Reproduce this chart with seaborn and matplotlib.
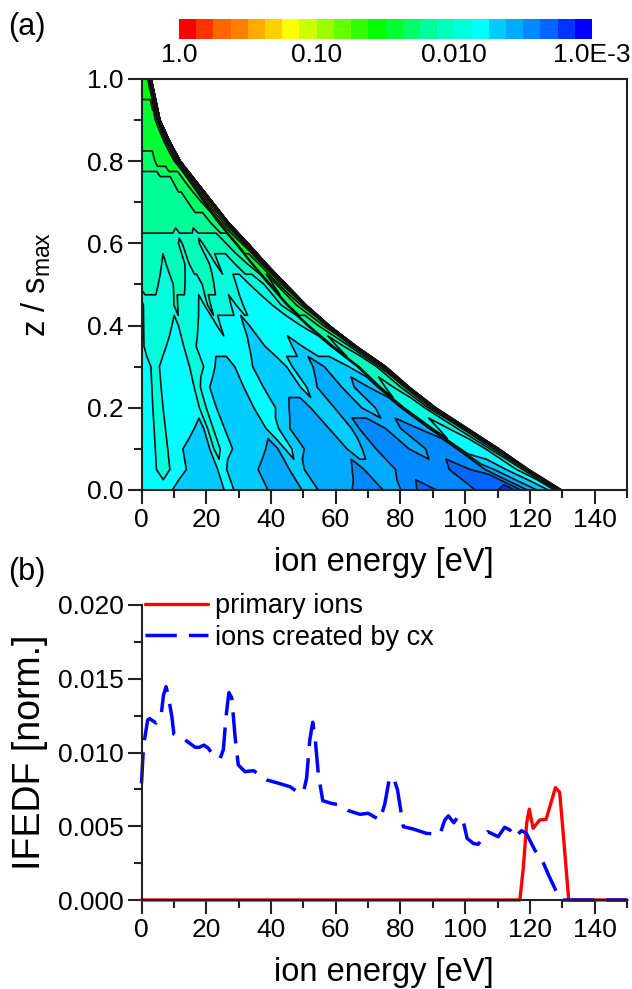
import numpy as np
import matplotlib
matplotlib.use('Agg')
import matplotlib.pyplot as plt
from matplotlib.colors import ListedColormap
from matplotlib.ticker import MultipleLocator
import seaborn as sns

# colour bar steps, 8 per decade from 1.0 down to 1.0E-3
band_colors = ['#ff0000', '#ff3300', '#ff6600', '#ff8000', '#ffaa00', '#ffd000',
               '#ffff00', '#ccff00', '#99ff00', '#66ff00', '#33ff00', '#00ff00',
               '#00ff33', '#00ff66', '#00ff99', '#00ffbb', '#00ffdd', '#00ffff',
               '#00ccff', '#00aaff', '#0088ff', '#0066ff', '#0033ff', '#0000ff']
bar_ticks = [0, 8, 16, 24]
bar_labels = ['1.0', '0.10', '0.010', '1.0E-3']

# panel a: heights, sheath edge energy at each height, and the energy columns
z_rows = [0, .05, .1, .15, .2, .25, .3, .35, .4, .45, .5, .55, .6, .65, .7, .75, .8, .85, .9, 1.0]
edge_energy = [130.2, 120, 110.8, 101, 91.2, 83, 75.7, 66.5, 58.2, 51, 44.8, 38.7, 33, 27, 22, 17, 12, 8.6, 5.7, 3.0]
col_energy = [0, 3, 7, 12, 18, 24, 27, 30, 36, 42, 48, 51, 53, 56, 62, 68, 73, 76, 78, 82,
              88, 94, 100, 106, 114, 116, 120, 124, 127, 129, 130]

# colour bar step of each cell, one list per height
band_z00 = [17, 17, 17, 18, 18, 18, 17, 18, 18, 19, 19, 18, 18, 19, 19, 20, 20, 19, 19, 20, 21, 20, 20, 21, 22, 21, 19, 18, 17, 14, 30]
band_z05 = [17, 17, 16, 17, 18, 18, 17, 18, 18, 19, 19, 18, 18, 19, 19, 19, 20, 19, 19, 19, 20, 20, 20, 21, 20, 19, 18, 17, 16, 14, 30]
band_z10 = [17, 17, 16, 17, 18, 18, 16, 17, 18, 18, 19, 18, 17, 18, 19, 19, 19, 18, 18, 19, 20, 20, 19, 20, 20, 17, 17, 17, 15, 13, 30]
band_z15 = [17, 17, 16, 17, 17, 18, 16, 17, 18, 18, 18, 17, 17, 18, 19, 19, 19, 18, 18, 18, 20, 20, 19, 20, 19, 16, 17, 16, 15, 12, 30]
band_z20 = [17, 17, 16, 17, 17, 17, 16, 17, 18, 18, 18, 17, 17, 17, 18, 19, 19, 18, 18, 18, 19, 19, 18, 19, 19, 16, 16, 16, 14, 12, 30]
band_z25 = [17, 17, 16, 17, 17, 17, 16, 17, 18, 18, 18, 17, 17, 17, 18, 18, 18, 18, 17, 18, 19, 19, 18, 19, 18, 15, 16, 15, 14, 11, 30]
band_z30 = [17, 17, 16, 17, 17, 17, 16, 16, 17, 18, 18, 17, 17, 17, 18, 18, 18, 18, 17, 18, 18, 19, 18, 18, 17, 15, 15, 15, 13, 11, 30]
band_z35 = [17, 16, 16, 16, 17, 17, 16, 16, 17, 17, 17, 17, 17, 17, 17, 18, 18, 17, 17, 17, 17, 18, 17, 17, 17, 14, 15, 14, 13, 10, 30]
band_z40 = [17, 16, 16, 16, 16, 17, 16, 16, 16, 17, 17, 17, 16, 17, 17, 17, 18, 17, 17, 17, 17, 17, 17, 17, 16, 14, 14, 13, 12, 10, 30]
band_z45 = [17, 16, 16, 16, 16, 16, 15, 16, 16, 16, 17, 16, 15, 16, 16, 16, 17, 16, 16, 17, 17, 17, 17, 16, 15, 13, 13, 12, 11, 9, 30]
band_z50 = [15, 15, 15, 15, 16, 16, 16, 15, 15, 16, 16, 16, 16, 15, 15, 16, 16, 16, 16, 16, 17, 17, 16, 16, 15, 12, 13, 11, 10, 8, 30]
band_z55 = [15, 15, 15, 15, 15, 16, 15, 15, 15, 15, 16, 15, 15, 15, 15, 15, 16, 16, 15, 16, 16, 16, 15, 15, 14, 12, 12, 11, 9, 8, 30]
band_z60 = [15, 15, 15, 15, 15, 15, 15, 15, 15, 15, 16, 15, 15, 15, 15, 15, 16, 15, 15, 15, 15, 15, 15, 14, 14, 11, 11, 10, 8, 7, 30]
band_z65 = [14, 14, 14, 14, 14, 14, 14, 14, 14, 14, 14, 14, 14, 14, 14, 14, 14, 14, 14, 14, 14, 14, 14, 13, 13, 11, 10, 9, 8, 7, 30]
band_z70 = [14, 14, 14, 14, 14, 14, 14, 14, 14, 14, 14, 14, 14, 14, 14, 14, 14, 14, 14, 14, 13, 13, 13, 13, 12, 10, 9, 8, 7, 6, 30]
band_z75 = [14, 14, 14, 14, 14, 14, 14, 14, 14, 14, 14, 14, 14, 14, 14, 14, 14, 13, 13, 13, 13, 13, 13, 12, 12, 9, 8, 7, 6, 6, 30]
band_z80 = [13, 13, 13, 13, 13, 13, 13, 13, 13, 13, 12, 12, 12, 12, 12, 12, 12, 12, 12, 12, 12, 12, 12, 12, 11, 9, 7, 6, 6, 6, 30]
band_z85 = [12, 12, 12, 12, 12, 12, 12, 12, 12, 12, 12, 12, 12, 12, 12, 12, 12, 12, 12, 12, 12, 12, 12, 11, 10, 8, 6, 6, 6, 6, 30]
band_z90 = [12, 12, 12, 12, 12, 12, 12, 12, 12, 12, 12, 12, 12, 12, 12, 12, 12, 12, 12, 12, 12, 12, 11, 11, 10, 8, 6, 6, 6, 6, 30]
band_z100 = [11, 11, 11, 11, 11, 11, 11, 11, 11, 11, 11, 11, 11, 11, 11, 11, 11, 11, 11, 11, 10, 10, 9, 8, 7, 6, 6, 6, 6, 6, 30]

# panel b: cx ions
cx_energy = [0, .6, 1.9, 2.5, 4.5, 6, 6.8, 7.6, 8.3, 9.4, 10, 12, 13.5, 16.6, 17.8, 19.3, 20.6, 22.2, 24.3,
             25.3, 26.1, 27, 27.9, 28.9, 29.9, 32, 34.6, 38.7, 41.8, 45.9, 48.5, 50, 51, 52, 52.9, 53.7, 54.6,
             56, 58.7, 61.3, 63.9, 67.5, 70, 73.7, 75.2, 76.5, 77.8, 79.1, 80.9, 84, 88, 92.2, 93.7, 94.8,
             96.5, 97.8, 99.2, 100.6, 102.5, 104, 105, 107, 110.2, 112.2, 113.8, 115.3, 117.4, 118.9, 121.5,
             124, 126, 128.2, 130, 150]
cx_ifedf = [.0079, .0104, .0122, .0123, .0120, .0124, .0139, .01446, .0138, .0124, .01125, .0110, .01085,
            .01035, .01035, .0105, .0103, .0098, .0096, .0102, .0124, .01406, .0137, .0111, .00915, .0087,
            .00877, .00814, .00795, .00768, .00728, .00728, .00825, .01085, .01205, .01085, .00859, .00673,
            .00655, .00644, .00606, .00581, .00588, .00542, .00655, .00814, .00836, .00746, .00497, .00481,
            .00452, .00445, .00542, .0057, .00524, .00565, .00554, .00418, .00384, .00377, .00407, .00463,
            .00429, .00493, .00475, .00425, .0047, .00452, .00339, .0026, .00158, .00056, 0, 0]

# panel b: primary ions
prim_energy = [0, 116.9, 118, 119, 119.8, 121, 123, 125, 127.9, 129.2, 130.2, 132, 150]
prim_ifedf = [0, 0, .00226, .0052, .00615, .00486, .00542, .00547, .00762, .0073, .00475, 0, 0]

W, H = 632, 989

sns.set_theme(style='ticks')
plt.rcParams['font.family'] = ['Liberation Sans', 'DejaVu Sans']
plt.rcParams['mathtext.fontset'] = 'custom'
plt.rcParams['mathtext.rm'] = 'Liberation Sans'
plt.rcParams['mathtext.default'] = 'rm'
plt.rcParams['text.color'] = 'black'
plt.rcParams['axes.labelcolor'] = 'black'
plt.rcParams['xtick.labelcolor'] = 'black'
plt.rcParams['ytick.labelcolor'] = 'black'


def axes_px(fig, left, top, right, bottom):
    return fig.add_axes([left / W, 1 - bottom / H, (right - left) / W, (bottom - top) / H])


def style_axis(ax):
    ax.set_xlim(0, 150)
    ax.xaxis.set_major_locator(MultipleLocator(20))
    ax.xaxis.set_minor_locator(MultipleLocator(10))
    ax.tick_params(which='major', length=10, width=1.5, labelsize=19, color='#222222', pad=3)
    ax.tick_params(which='minor', length=6, width=1.5, color='#222222')
    ax.set_xlabel('ion energy [eV]', fontsize=23.5, va='center')
    for s in ax.spines.values():
        s.set_linewidth(1.5)
        s.set_color('#222222')


fig = plt.figure(figsize=(W / 100, H / 100), dpi=100)

# ---- panel a
ax_a = axes_px(fig, 141.5, 79, 627, 490)
bands = np.array([band_z00, band_z05, band_z10, band_z15, band_z20, band_z25, band_z30, band_z35,
                  band_z40, band_z45, band_z50, band_z55, band_z60, band_z65, band_z70, band_z75,
                  band_z80, band_z85, band_z90, band_z100]) + 0.5
X = np.outer(np.array(edge_energy), np.array(col_energy)) / 130.0
Y = np.repeat(np.array(z_rows)[:, None], len(col_energy), axis=1)
levels = np.arange(0, 25)
ax_a.contourf(X, Y, bands, levels=levels, colors=band_colors)
ax_a.contour(X, Y, bands, levels=levels, colors='#111111', linewidths=1.2, linestyles='solid')
style_axis(ax_a)
ax_a.set_ylim(0, 1)
ax_a.yaxis.set_major_locator(MultipleLocator(.2))
ax_a.yaxis.set_minor_locator(MultipleLocator(.1))
ax_a.yaxis.set_major_formatter('{x:.1f}')
ax_a.set_ylabel('z / s$_{max}$', fontsize=23.5, va='center')
ax_a.xaxis.set_label_coords(.5, (490 - 563) / 411)
ax_a.yaxis.set_label_coords((36 - 141.5) / 485.5, .5)

# ---- colour bar
cax = axes_px(fig, 179, 19, 592, 39)
cax.pcolormesh(np.arange(25), [0, 1], np.arange(24)[None, :], cmap=ListedColormap(band_colors), vmin=0, vmax=24)
cax.set_yticks([])
cax.set_xticks(bar_ticks)
cax.set_xticklabels(bar_labels)
cax.tick_params(length=0, labelsize=19, pad=3)
sns.despine(ax=cax, left=True, bottom=True)

# ---- panel b
ax_b = axes_px(fig, 141.5, 605, 627, 900)
sns.lineplot(x=prim_energy, y=prim_ifedf, ax=ax_b, color='#ff0000', lw=2.4, label='primary ions',
             estimator=None, sort=False, clip_on=False)
sns.lineplot(x=cx_energy, y=cx_ifedf, ax=ax_b, color='#0000ff', lw=2.5, label='ions created by cx',
             estimator=None, sort=False, linestyle=(0, (9, 3.5)), clip_on=False)
style_axis(ax_b)
ax_b.set_ylim(0, .02)
ax_b.yaxis.set_major_locator(MultipleLocator(.005))
ax_b.yaxis.set_minor_locator(MultipleLocator(.0025))
ax_b.yaxis.set_major_formatter('{x:.3f}')
ax_b.set_ylabel('IFEDF [norm.]', fontsize=27, va='center')
ax_b.xaxis.set_label_coords(.5, (900 - 973) / 295)
ax_b.yaxis.set_label_coords((30 - 141.5) / 485.5, .5)
sns.despine(ax=ax_b)
ax_b.legend(loc='upper left', bbox_to_anchor=(.008, 1.04), frameon=False, fontsize=19.5,
            handlelength=2.3, handletextpad=.28, labelspacing=.2, borderaxespad=0, borderpad=0)

fig.text(8 / W, 1 - 27 / H, '(a)', fontsize=22, va='center')
fig.text(8 / W, 1 - 572 / H, '(b)', fontsize=22, va='center')

fig.savefig('out.png', dpi=100)
